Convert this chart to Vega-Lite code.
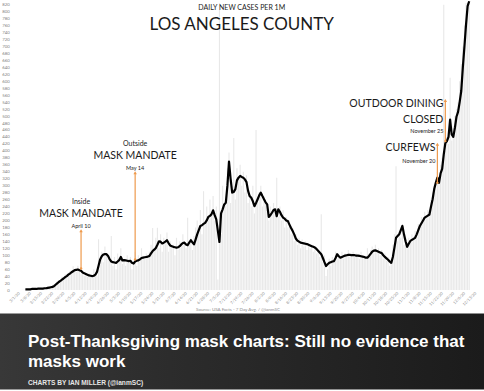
{
  "$schema": "https://vega.github.io/schema/vega-lite/v6.json",
  "background": "white",
  "padding": 0,
  "columns": 1,
  "align": "none",
  "spacing": 2.5,
  "config": {
    "view": {"stroke": null},
    "axisY": {"labelFont": "Lato", "labelFontSize": 4.3, "labelColor": "#7f7f7f", "labelPadding": 3.5, "labelOverlap": false, "ticks": false, "domain": false, "grid": false, "offset": -12.7}
  },
  "datasets": {
    "days": [
      {"d":"2020-03-01","c":0},{"d":"2020-03-02","c":0},{"d":"2020-03-03","c":0},{"d":"2020-03-04","c":1},{"d":"2020-03-05","c":1},
      {"d":"2020-03-06","c":2,"a":2},{"d":"2020-03-07","c":1,"a":2},{"d":"2020-03-08","c":2,"a":2},{"d":"2020-03-09","c":3,"a":2},{"d":"2020-03-10","c":2,"a":3},
      {"d":"2020-03-11","c":3,"a":3},{"d":"2020-03-12","c":4,"a":3},{"d":"2020-03-13","c":3,"a":3},{"d":"2020-03-14","c":5,"a":4},{"d":"2020-03-15","c":4,"a":4},
      {"d":"2020-03-16","c":6,"a":4},{"d":"2020-03-17","c":5,"a":4},{"d":"2020-03-18","c":7,"a":5},{"d":"2020-03-19","c":6,"a":5},{"d":"2020-03-20","c":9,"a":6},
      {"d":"2020-03-21","c":8,"a":7},{"d":"2020-03-22","c":12,"a":8},{"d":"2020-03-23","c":10,"a":9},{"d":"2020-03-24","c":16,"a":11},{"d":"2020-03-25","c":20,"a":15},
      {"d":"2020-03-26","c":25,"a":19},{"d":"2020-03-27","c":28,"a":23},{"d":"2020-03-28","c":22,"a":26},{"d":"2020-03-29","c":38,"a":30},{"d":"2020-03-30","c":35,"a":33},
      {"d":"2020-03-31","c":45,"a":37},
      {"d":"2020-04-01","c":42,"a":40},{"d":"2020-04-02","c":50,"a":44},{"d":"2020-04-03","c":55,"a":47},{"d":"2020-04-04","c":48,"a":51},{"d":"2020-04-05","c":68,"a":54},
      {"d":"2020-04-06","c":60,"a":57},{"d":"2020-04-07","c":52,"a":58},{"d":"2020-04-08","c":70,"a":59},{"d":"2020-04-09","c":58,"a":57},{"d":"2020-04-10","c":45,"a":55},
      {"d":"2020-04-11","c":55,"a":50},{"d":"2020-04-12","c":40,"a":48},{"d":"2020-04-13","c":50,"a":46},{"d":"2020-04-14","c":38,"a":44},{"d":"2020-04-15","c":48,"a":42},
      {"d":"2020-04-16","c":42,"a":41},{"d":"2020-04-17","c":35,"a":40},{"d":"2020-04-18","c":60,"a":41},{"d":"2020-04-19","c":50,"a":44},{"d":"2020-04-20","c":40,"a":52},
      {"d":"2020-04-21","c":146,"a":70},{"d":"2020-04-22","c":90,"a":88},{"d":"2020-04-23","c":110,"a":97},{"d":"2020-04-24","c":80,"a":102},{"d":"2020-04-25","c":125,"a":103},
      {"d":"2020-04-26","c":100,"a":103},{"d":"2020-04-27","c":95,"a":98},{"d":"2020-04-28","c":85,"a":88},{"d":"2020-04-29","c":155,"a":82},{"d":"2020-04-30","c":70,"a":80},
      {"d":"2020-05-01","c":95,"a":79},{"d":"2020-05-02","c":60,"a":78},{"d":"2020-05-03","c":105,"a":82},{"d":"2020-05-04","c":80,"a":86},{"d":"2020-05-05","c":120,"a":95},
      {"d":"2020-05-06","c":75,"a":85},{"d":"2020-05-07","c":90,"a":86},{"d":"2020-05-08","c":70,"a":85},{"d":"2020-05-09","c":100,"a":84},{"d":"2020-05-10","c":85,"a":83},
      {"d":"2020-05-11","c":95,"a":84},{"d":"2020-05-12","c":60,"a":78},{"d":"2020-05-13","c":80,"a":76},{"d":"2020-05-14","c":110,"a":82},{"d":"2020-05-15","c":70,"a":84},
      {"d":"2020-05-16","c":100,"a":85},{"d":"2020-05-17","c":85,"a":88},{"d":"2020-05-18","c":120,"a":92},{"d":"2020-05-19","c":95,"a":93},{"d":"2020-05-20","c":90,"a":94},
      {"d":"2020-05-21","c":105,"a":95},{"d":"2020-05-22","c":100,"a":96},{"d":"2020-05-23","c":110,"a":98},{"d":"2020-05-24","c":130,"a":105},{"d":"2020-05-25","c":178,"a":112},
      {"d":"2020-05-26","c":115,"a":116},{"d":"2020-05-27","c":150,"a":121},{"d":"2020-05-28","c":179,"a":130},{"d":"2020-05-29","c":120,"a":140},{"d":"2020-05-30","c":160,"a":139},
      {"d":"2020-05-31","c":110,"a":134},
      {"d":"2020-06-01","c":150,"a":136},{"d":"2020-06-02","c":135,"a":139},{"d":"2020-06-03","c":165,"a":143},{"d":"2020-06-04","c":110,"a":135},{"d":"2020-06-05","c":140,"a":128},
      {"d":"2020-06-06","c":120,"a":126},{"d":"2020-06-07","c":130,"a":124},{"d":"2020-06-08","c":100,"a":123},{"d":"2020-06-09","c":150,"a":122},{"d":"2020-06-10","c":115,"a":123},
      {"d":"2020-06-11","c":140,"a":126},{"d":"2020-06-12","c":125,"a":131},{"d":"2020-06-13","c":160,"a":135},{"d":"2020-06-14","c":140,"a":136},{"d":"2020-06-15","c":120,"a":131},
      {"d":"2020-06-16","c":208,"a":129},{"d":"2020-06-17","c":130,"a":136},{"d":"2020-06-18","c":150,"a":143},{"d":"2020-06-19","c":115,"a":137},{"d":"2020-06-20","c":155,"a":131},
      {"d":"2020-06-21","c":180,"a":145},{"d":"2020-06-22","c":200,"a":160},{"d":"2020-06-23","c":175,"a":172},{"d":"2020-06-24","c":230,"a":184},{"d":"2020-06-25","c":160,"a":186},
      {"d":"2020-06-26","c":284,"a":190},{"d":"2020-06-27","c":190,"a":193},{"d":"2020-06-28","c":240,"a":200},{"d":"2020-06-29","c":200,"a":210},{"d":"2020-06-30","c":260,"a":213},
      {"d":"2020-07-01","c":220,"a":218},{"d":"2020-07-02","c":270,"a":229},{"d":"2020-07-03","c":200,"a":215},{"d":"2020-07-04","c":240,"a":203},{"d":"2020-07-05","c":30,"a":170},
      {"d":"2020-07-06","c":900,"a":138},{"d":"2020-07-07","c":160,"a":220},{"d":"2020-07-08","c":300,"a":232},{"d":"2020-07-09","c":250,"a":246},{"d":"2020-07-10","c":260,"a":251},
      {"d":"2020-07-11","c":350,"a":300},{"d":"2020-07-12","c":395,"a":369},{"d":"2020-07-13","c":250,"a":320},{"d":"2020-07-14","c":300,"a":280},{"d":"2020-07-15","c":437,"a":282},
      {"d":"2020-07-16","c":260,"a":290},{"d":"2020-07-17","c":350,"a":315},{"d":"2020-07-18","c":320,"a":323},{"d":"2020-07-19","c":360,"a":328},{"d":"2020-07-20","c":300,"a":325},
      {"d":"2020-07-21","c":340,"a":323},{"d":"2020-07-22","c":280,"a":318},{"d":"2020-07-23","c":330,"a":310},{"d":"2020-07-24","c":250,"a":285},{"d":"2020-07-25","c":270,"a":270},
      {"d":"2020-07-26","c":240,"a":265},{"d":"2020-07-27","c":300,"a":255},{"d":"2020-07-28","c":220,"a":241},{"d":"2020-07-29","c":460,"a":250},{"d":"2020-07-30","c":250,"a":261},
      {"d":"2020-07-31","c":280,"a":272},
      {"d":"2020-08-01","c":300,"a":280},{"d":"2020-08-02","c":240,"a":270},{"d":"2020-08-03","c":270,"a":261},{"d":"2020-08-04","c":260,"a":252},{"d":"2020-08-05","c":230,"a":246},
      {"d":"2020-08-06","c":200,"a":210},{"d":"2020-08-07","c":240,"a":215},{"d":"2020-08-08","c":220,"a":222},{"d":"2020-08-09","c":250,"a":230},{"d":"2020-08-10","c":230,"a":232},
      {"d":"2020-08-11","c":323,"a":212},{"d":"2020-08-12","c":210,"a":232},{"d":"2020-08-13","c":240,"a":225},{"d":"2020-08-14","c":200,"a":215},{"d":"2020-08-15","c":230,"a":208},
      {"d":"2020-08-16","c":180,"a":205},{"d":"2020-08-17","c":210,"a":200},{"d":"2020-08-18","c":180,"a":198},{"d":"2020-08-19","c":200,"a":188},{"d":"2020-08-20","c":160,"a":178},
      {"d":"2020-08-21","c":180,"a":170},{"d":"2020-08-22","c":140,"a":160},{"d":"2020-08-23","c":160,"a":148},{"d":"2020-08-24","c":130,"a":142},{"d":"2020-08-25","c":150,"a":139},
      {"d":"2020-08-26","c":120,"a":136},{"d":"2020-08-27","c":145,"a":135},{"d":"2020-08-28","c":125,"a":134},{"d":"2020-08-29","c":140,"a":133},{"d":"2020-08-30","c":115,"a":132},
      {"d":"2020-08-31","c":135,"a":130},
      {"d":"2020-09-01","c":120,"a":128},{"d":"2020-09-02","c":130,"a":126},{"d":"2020-09-03","c":110,"a":124},{"d":"2020-09-04","c":125,"a":122},{"d":"2020-09-05","c":105,"a":118},
      {"d":"2020-09-06","c":115,"a":113},{"d":"2020-09-07","c":95,"a":108},{"d":"2020-09-08","c":218,"a":103},{"d":"2020-09-09","c":80,"a":92},{"d":"2020-09-10","c":100,"a":80},
      {"d":"2020-09-11","c":40,"a":69},{"d":"2020-09-12","c":60,"a":74},{"d":"2020-09-13","c":90,"a":78},{"d":"2020-09-14","c":70,"a":80},{"d":"2020-09-15","c":95,"a":82},
      {"d":"2020-09-16","c":85,"a":83},{"d":"2020-09-17","c":110,"a":92},{"d":"2020-09-18","c":90,"a":103},{"d":"2020-09-19","c":100,"a":97},{"d":"2020-09-20","c":95,"a":93},
      {"d":"2020-09-21","c":110,"a":95},{"d":"2020-09-22","c":90,"a":97},{"d":"2020-09-23","c":105,"a":99},{"d":"2020-09-24","c":100,"a":100},{"d":"2020-09-25","c":115,"a":101},
      {"d":"2020-09-26","c":95,"a":101},{"d":"2020-09-27","c":105,"a":100},{"d":"2020-09-28","c":110,"a":100},{"d":"2020-09-29","c":95,"a":100},{"d":"2020-09-30","c":105,"a":99},
      {"d":"2020-10-01","c":100,"a":99},{"d":"2020-10-02","c":90,"a":98},{"d":"2020-10-03","c":110,"a":97},{"d":"2020-10-04","c":95,"a":96},{"d":"2020-10-05","c":100,"a":95},
      {"d":"2020-10-06","c":90,"a":93},{"d":"2020-10-07","c":120,"a":93},{"d":"2020-10-08","c":100,"a":98},{"d":"2020-10-09","c":115,"a":104},{"d":"2020-10-10","c":125,"a":110},
      {"d":"2020-10-11","c":105,"a":113},{"d":"2020-10-12","c":130,"a":114},{"d":"2020-10-13","c":110,"a":112},{"d":"2020-10-14","c":120,"a":110},{"d":"2020-10-15","c":100,"a":108},
      {"d":"2020-10-16","c":115,"a":106},{"d":"2020-10-17","c":90,"a":100},{"d":"2020-10-18","c":105,"a":95},{"d":"2020-10-19","c":85,"a":91},{"d":"2020-10-20","c":95,"a":87},
      {"d":"2020-10-21","c":70,"a":82},{"d":"2020-10-22","c":90,"a":78},{"d":"2020-10-23","c":130,"a":95},{"d":"2020-10-24","c":160,"a":122},{"d":"2020-10-25","c":356,"a":150},
      {"d":"2020-10-26","c":140,"a":155},{"d":"2020-10-27","c":170,"a":160},{"d":"2020-10-28","c":150,"a":172},{"d":"2020-10-29","c":190,"a":184},{"d":"2020-10-30","c":130,"a":160},
      {"d":"2020-10-31","c":150,"a":140},
      {"d":"2020-11-01","c":120,"a":124},{"d":"2020-11-02","c":150,"a":133},{"d":"2020-11-03","c":140,"a":141},{"d":"2020-11-04","c":160,"a":144},{"d":"2020-11-05","c":145,"a":147},
      {"d":"2020-11-06","c":170,"a":150},{"d":"2020-11-07","c":160,"a":160},{"d":"2020-11-08","c":190,"a":172},{"d":"2020-11-09","c":175,"a":184},{"d":"2020-11-10","c":210,"a":192},
      {"d":"2020-11-11","c":195,"a":200},{"d":"2020-11-12","c":225,"a":208},{"d":"2020-11-13","c":210,"a":211},{"d":"2020-11-14","c":230,"a":214},{"d":"2020-11-15","c":220,"a":217},
      {"d":"2020-11-16","c":260,"a":240},{"d":"2020-11-17","c":280,"a":261},{"d":"2020-11-18","c":300,"a":290},{"d":"2020-11-19","c":290,"a":308},{"d":"2020-11-20","c":340,"a":323},
      {"d":"2020-11-21","c":320,"a":308},{"d":"2020-11-22","c":360,"a":335},{"d":"2020-11-23","c":380,"a":348},{"d":"2020-11-24","c":820,"a":390},{"d":"2020-11-25","c":400,"a":422},
      {"d":"2020-11-26","c":440,"a":428},{"d":"2020-11-27","c":420,"a":440},{"d":"2020-11-28","c":610,"a":490},{"d":"2020-11-29","c":430,"a":447},{"d":"2020-11-30","c":470,"a":440},
      {"d":"2020-12-01","c":500,"a":466},{"d":"2020-12-02","c":520,"a":498},{"d":"2020-12-03","c":540,"a":512},{"d":"2020-12-04","c":600,"a":540},{"d":"2020-12-05","c":650,"a":572},
      {"d":"2020-12-06","c":700,"a":640},{"d":"2020-12-07","c":760,"a":700},{"d":"2020-12-08","c":850,"a":763},{"d":"2020-12-09","c":880,"a":816},{"d":"2020-12-10","c":900,"a":830}
    ],
    "events": [
      {"d":"2020-04-10","lo":62,"hi":170},
      {"d":"2020-05-14","lo":88,"hi":337},
      {"d":"2020-11-20","lo":308,"hi":419},
      {"d":"2020-11-25","lo":428,"hi":545}
    ],
    "notes": [
      {"d":"2020-07-20","v":811,"t":"DAILY NEW CASES PER 1M","role":"subhead","grp":"title"},
      {"d":"2020-07-20","v":763,"t":"LOS ANGELES COUNTY","role":"headline","grp":"title"},
      {"d":"2020-04-10","v":254,"t":"Inside","role":"lead","grp":"spring"},
      {"d":"2020-04-10","v":218,"t":"MASK MANDATE","role":"event","grp":"spring"},
      {"d":"2020-04-10","v":184,"t":"April 10","role":"date","grp":"spring"},
      {"d":"2020-05-14","v":420,"t":"Outside","role":"lead","grp":"spring"},
      {"d":"2020-05-14","v":385,"t":"MASK MANDATE","role":"event","grp":"spring"},
      {"d":"2020-05-14","v":351,"t":"May 14","role":"date","grp":"spring"},
      {"d":"2020-11-25","v":535,"t":"OUTDOOR DINING","role":"event","grp":"fall"},
      {"d":"2020-11-25","v":490,"t":"CLOSED","role":"event","grp":"fall"},
      {"d":"2020-11-25","v":457,"t":"November 25","role":"date","grp":"fall"},
      {"d":"2020-11-20","v":409,"t":"CURFEWS","role":"event","grp":"fall"},
      {"d":"2020-11-20","v":371,"t":"November 20","role":"date","grp":"fall"}
    ],
    "banner": [
      {"t":"Post-Thanksgiving mask charts: Still no evidence that","line":1},
      {"t":"masks work","line":2},
      {"t":"CHARTS BY IAN MILLER (@ianmSC)","line":3}
    ]
  },
  "concat": [
    {
      "width": 475,
      "height": 287,
      "encoding": {
        "x": {
          "field": "d", "type": "temporal",
          "scale": {"type": "utc", "domain": [{"year":2020,"month":"feb","date":22,"hours":4,"minutes":30,"utc":true},{"year":2020,"month":"dec","date":10,"hours":12,"utc":true}]},
          "axis": {
            "title": "Source: USA Facts - 7 Day Avg. / @ianmSC",
            "titleFont": "Lato", "titleFontSize": 4.5, "titleFontWeight": "normal", "titleColor": "#8c8c8c", "titlePadding": 0,
            "format": "%-m/%-d/%y", "tickCount": {"interval": "week", "step": 1},
            "labelExpr": "datum.value < 1583020000000 ? '' : datum.label",
            "labelAngle": -45, "labelFont": "Lato", "labelFontSize": 4, "labelColor": "#8c8c8c", "labelPadding": 1,
            "labelOverlap": false, "labelBound": false, "labelFlush": false,
            "ticks": false, "domain": false, "grid": false
          }
        }
      },
      "layer": [
        {
          "data": {"name": "days"},
          "mark": {"type": "bar", "size": 1.1, "color": "#e8e8e8", "clip": true},
          "encoding": {
            "y": {"field": "c", "type": "quantitative", "scale": {"domain": [0, 825], "nice": false}, "axis": {"title": null, "tickCount": 34}}
          }
        },
        {
          "data": {"name": "days"},
          "mark": {"type": "line", "color": "#000000", "strokeWidth": 2.2, "strokeJoin": "round"},
          "encoding": {"y": {"field": "a", "type": "quantitative", "axis": {"title": null, "tickCount": 34}}}
        },
        {
          "data": {"name": "events"},
          "mark": {"type": "rule", "color": "#EE9A4D", "strokeWidth": 1.2},
          "encoding": {"y": {"field": "lo", "type": "quantitative", "axis": {"title": null, "tickCount": 34}}, "y2": {"field": "hi"}}
        },
        {
          "data": {"name": "events"},
          "mark": {"type": "point", "shape": "triangle-up", "filled": true, "size": 12, "color": "#EE9A4D", "opacity": 1},
          "encoding": {"y": {"field": "hi", "type": "quantitative", "axis": {"title": null, "tickCount": 34}}}
        },
        {
          "data": {"name": "events"},
          "mark": {"type": "point", "shape": "circle", "filled": true, "size": 6, "color": "#EE9A4D", "opacity": 1},
          "encoding": {"y": {"field": "lo", "type": "quantitative", "axis": {"title": null, "tickCount": 34}}}
        },
        {
          "data": {"name": "notes"},
          "transform": [{"filter": "datum.role == 'headline'"}],
          "mark": {"type": "text", "align": "center", "baseline": "middle", "font": "Lato", "fontSize": 17, "color": "#1a1a1a"},
          "encoding": {"y": {"field": "v", "type": "quantitative", "axis": {"title": null, "tickCount": 34}}, "text": {"field": "t"}}
        },
        {
          "data": {"name": "notes"},
          "transform": [{"filter": "datum.role == 'subhead' || datum.role == 'lead'"}],
          "mark": {"type": "text", "align": "center", "baseline": "middle", "font": "Lato", "fontSize": 7, "color": "#1a1a1a"},
          "encoding": {"y": {"field": "v", "type": "quantitative", "axis": {"title": null, "tickCount": 34}}, "text": {"field": "t"}}
        },
        {
          "data": {"name": "notes"},
          "transform": [{"filter": "datum.role == 'event' && datum.grp == 'spring'"}],
          "mark": {"type": "text", "align": "center", "baseline": "middle", "font": "Lato", "fontSize": 10.5, "color": "#1a1a1a"},
          "encoding": {"y": {"field": "v", "type": "quantitative", "axis": {"title": null, "tickCount": 34}}, "text": {"field": "t"}}
        },
        {
          "data": {"name": "notes"},
          "transform": [{"filter": "datum.role == 'date' && datum.grp == 'spring'"}],
          "mark": {"type": "text", "align": "center", "baseline": "middle", "font": "Lato", "fontSize": 5.5, "color": "#1a1a1a"},
          "encoding": {"y": {"field": "v", "type": "quantitative", "axis": {"title": null, "tickCount": 34}}, "text": {"field": "t"}}
        },
        {
          "data": {"name": "notes"},
          "transform": [{"filter": "datum.role == 'event' && datum.grp == 'fall'"}],
          "mark": {"type": "text", "align": "right", "baseline": "middle", "font": "Lato", "fontSize": 10.5, "color": "#1a1a1a", "dx": -2},
          "encoding": {"y": {"field": "v", "type": "quantitative", "axis": {"title": null, "tickCount": 34}}, "text": {"field": "t"}}
        },
        {
          "data": {"name": "notes"},
          "transform": [{"filter": "datum.role == 'date' && datum.grp == 'fall'"}],
          "mark": {"type": "text", "align": "right", "baseline": "middle", "font": "Lato", "fontSize": 5.5, "color": "#1a1a1a", "dx": -2},
          "encoding": {"y": {"field": "v", "type": "quantitative", "axis": {"title": null, "tickCount": 34}}, "text": {"field": "t"}}
        }
      ]
    },
    {
      "width": 484,
      "height": 76,
      "view": {"fill": {"gradient": "linear", "x1": 0, "y1": 0, "x2": 1, "y2": 0, "stops": [{"offset": 0, "color": "#383838"}, {"offset": 0.35, "color": "#2c2c2c"}, {"offset": 1, "color": "#1b1b1b"}]}, "stroke": null},
      "data": {"name": "banner"},
      "encoding": {
        "x": {"datum": 0, "type": "quantitative", "scale": {"domain": [0, 1]}, "axis": null},
        "y": {"field": "line", "type": "ordinal", "scale": {"type": "point", "domain": [1, 2, 3], "range": [28, 69], "padding": 0}, "axis": null},
        "text": {"field": "t"}
      },
      "layer": [
        {
          "transform": [{"filter": "datum.line < 3"}],
          "mark": {"type": "text", "align": "left", "baseline": "middle", "font": "Liberation Sans", "fontWeight": "bold", "fontSize": 17, "color": "#ffffff", "dx": 28}
        },
        {
          "transform": [{"filter": "datum.line == 3"}],
          "mark": {"type": "text", "align": "left", "baseline": "middle", "font": "Liberation Sans", "fontWeight": "bold", "fontSize": 6.6, "color": "#e6e6e6", "dx": 28}
        }
      ]
    }
  ]
}
